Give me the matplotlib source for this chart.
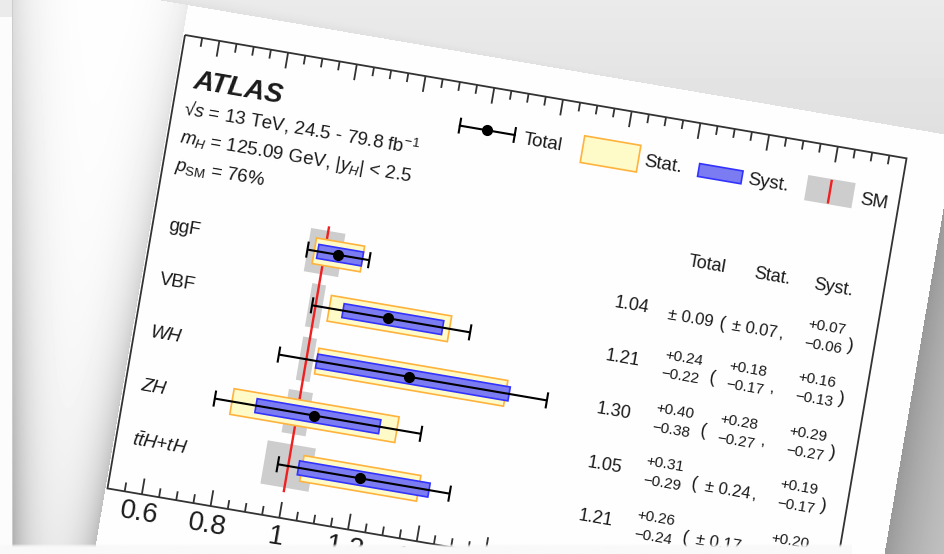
import numpy as np
import matplotlib.pyplot as plt
from matplotlib.transforms import Affine2D
from matplotlib.patches import Rectangle

plt.rcParams['font.family'] = ['Liberation Sans', 'DejaVu Sans']
plt.rcParams['mathtext.fontset'] = 'custom'
plt.rcParams['mathtext.rm'] = 'Liberation Sans'
plt.rcParams['mathtext.it'] = 'Liberation Sans:italic'
plt.rcParams['mathtext.bf'] = 'Liberation Sans:bold'
plt.rcParams['mathtext.fallback'] = 'stixsans'

# production modes, top to bottom
modes = ['ggF', 'VBF', 'WH', 'ZH', r'$t\bar{t}H$+$tH$']
mode_italic = [False, False, True, True, True]

mu = [1.04, 1.21, 1.30, 1.05, 1.21]
tot_up = [0.09, 0.24, 0.40, 0.31, 0.26]
tot_dn = [0.09, 0.22, 0.38, 0.29, 0.24]
stat_up = [0.07, 0.18, 0.28, 0.24, 0.17]
stat_dn = [0.07, 0.17, 0.27, 0.24, 0.17]
syst_up = [0.07, 0.16, 0.29, 0.19, 0.20]
syst_dn = [0.06, 0.13, 0.27, 0.17, 0.18]
sm_unc = [0.05, 0.02, 0.02, 0.035, 0.07]

x_major = [0.6, 0.8, 1.0, 1.2, 1.4, 1.6, 1.8, 2.0, 2.2, 2.4]

# geometry of the tilted page (pixels)
ANG = 9.7
ORIGIN = (185, 35)
FW, FH = 732, 460
XMIN, XMAX = 0.5, 2.6
PX = FW / (XMAX - XMIN)
ROW0, ROWPX = 190.9, 54.15
Y_TOP = -ROW0 / ROWPX
Y_BOT = (FH - ROW0) / ROWPX

W, H = 944, 554
fig = plt.figure(figsize=(W / 100, H / 100), dpi=100)
ax = fig.add_axes([0, 0, 1, 1])
ax.set_xlim(0, W)
ax.set_ylim(H, 0)
ax.axis('off')

page = Affine2D().rotate_deg(ANG).translate(*ORIGIN) + ax.transData
frac = Affine2D().scale(FW, FH) + page
data = Affine2D().translate(-XMIN, 0).scale(PX, ROWPX).translate(0, ROW0) + page
ROT = -ANG

# background: photo of a tilted page with shadows
yy, xx = np.mgrid[0:H, 0:W] + 0.5
ca, sa = np.cos(np.radians(ANG)), np.sin(np.radians(ANG))
lx = (xx - ORIGIN[0]) * ca + (yy - ORIGIN[1]) * sa
ly = -(xx - ORIGIN[0]) * sa + (yy - ORIGIN[1]) * ca
edge_d = np.clip(-2 - lx, 0, None)
bg = (1 - (0.14 + 0.18 * yy / H) * np.exp(-(xx - 12) / 22)
      - (0.08 + 0.18 * yy / H) * np.exp(-edge_d / 22))
bg = np.where(xx < 12, 0.985, bg)
bg = np.where((xx < 12) & (yy < 17), 0.92, bg)
bg = np.where((xx >= 12) & (xx < 13.5), 0.8, bg)
above = ly < -30
bg = np.where(above, np.minimum(bg, 0.94 - 0.06 * np.exp((ly + 30) / 12)), bg)
right = lx > 777
bg = np.where(right, 0.6 + 0.22 * (1 - np.exp(-(lx - 777) / 50)), bg)
inside = (lx >= -2) & (ly >= -30) & (lx <= 777)
bg = np.where(inside, 0.995, bg)
ax.imshow(bg, cmap='gray', vmin=0, vmax=1, extent=(0, W, H, 0),
          interpolation='bilinear', zorder=0, aspect='auto')

ink = '#1a1a1a'
rows = np.arange(len(modes))
mu_a = np.array(mu)

# SM band and line
sm = np.array(sm_unc)
ax.barh(rows, 2 * sm, left=1 - sm, height=0.81, color='#cdcdcd',
        transform=data, zorder=2)
ax.vlines(1.0, -0.49, len(modes) - 1 + 0.49, color='#f02020', lw=1.7,
          transform=data, zorder=3)

# stat / syst boxes
s_lo = mu_a - np.array(stat_dn)
s_hi = mu_a + np.array(stat_up)
ax.barh(rows, s_hi - s_lo, left=s_lo, height=0.48, color='#fffbc8',
        edgecolor='#ffb23c', linewidth=1.2, transform=data, zorder=4)
y_lo = mu_a - np.array(syst_dn)
y_hi = mu_a + np.array(syst_up)
ax.barh(rows, y_hi - y_lo, left=y_lo, height=0.26, color='#7b7bf2',
        edgecolor='#3333ff', linewidth=1.2, transform=data, zorder=5)

# total error bars
t_lo = mu_a - np.array(tot_dn)
t_hi = mu_a + np.array(tot_up)
ax.hlines(rows, t_lo, t_hi, color='black', lw=1.5, transform=data, zorder=6)
ax.vlines(np.r_[t_lo, t_hi], np.r_[rows, rows] - 0.15, np.r_[rows, rows] + 0.15,
          color='black', lw=1.5, transform=data, zorder=6)
ax.plot(mu_a, rows, 'o', color='black', ms=7, transform=data, zorder=7)

# frame and ticks
ax.add_patch(Rectangle((0, 0), 1, 1, fill=False, ec='#333333', lw=1.3,
                       transform=frac, zorder=8))
majors = np.array(x_major)
minors = np.round(np.arange(0.55, 2.6, 0.05), 2)
minors = minors[~np.isin(minors, np.round(majors, 2))]
tl_maj, tl_min = 16 / ROWPX, 9 / ROWPX
for yb, sgn in [(Y_TOP, 1), (Y_BOT, -1)]:
    ax.vlines(majors, yb, yb + sgn * tl_maj, color='#333333', lw=1.3,
              transform=data, zorder=8)
    ax.vlines(minors, yb, yb + sgn * tl_min, color='#333333', lw=1.3,
              transform=data, zorder=8)
for v in x_major:
    ax.text(v, Y_BOT + 0.36, '%g' % v, transform=data, rotation=ROT,
            rotation_mode='anchor', ha='center', va='center', fontsize=20,
            color=ink, zorder=8)

# mode labels
for i, (lab, it) in enumerate(zip(modes, mode_italic)):
    ax.text(0.546, i, lab, transform=data, rotation=ROT, rotation_mode='anchor',
            ha='left', va='center', fontsize=13.5, color=ink,
            style='italic' if it else 'normal', zorder=8)


# ATLAS label block
def ftext(x, y, s, **kw):
    kw.setdefault('color', ink)
    ax.text(x, y, s, transform=frac, rotation=ROT, rotation_mode='anchor',
            zorder=8, **kw)


ftext(0.022, 0.111, 'ATLAS', fontsize=20, weight='bold', style='italic',
      va='baseline')
ftext(0.016, 0.172, '√$s$ = 13 TeV, 24.5 - 79.8 fb$^{-1}$', fontsize=13.5,
      va='baseline')
ftext(0.016, 0.231, r'$m_{H}$ = 125.09 GeV, $|y_{H}|$ < 2.5', fontsize=13.5,
      va='baseline')
ftext(0.016, 0.293, r'$p_{\mathrm{SM}}$ = 76%', fontsize=13.5, va='baseline')

# legend
ly_tot = 0.0935
ax.plot([0.391, 0.467], [ly_tot, ly_tot], color='black', lw=1.5,
        transform=frac, zorder=8)
ax.vlines([0.391, 0.467], ly_tot - 0.0174, ly_tot + 0.0174, color='black',
          lw=1.5, transform=frac, zorder=8)
ax.plot([0.429], [ly_tot], 'o', color='black', ms=7, transform=frac, zorder=9)
ftext(0.4795, 0.100, 'Total', fontsize=13.5, va='center')
ax.add_patch(Rectangle((0.5615, 0.0696), 0.0778, 0.0587, fc='#fffbc8',
                       ec='#ffb23c', lw=1.2, transform=frac, zorder=8))
ftext(0.6475, 0.1035, 'Stat.', fontsize=13.5, va='center')
ax.add_patch(Rectangle((0.7227, 0.087), 0.0601, 0.0282, fc='#7b7bf2',
                       ec='#3333ff', lw=1.2, transform=frac, zorder=8))
ftext(0.791, 0.1043, 'Syst.', fontsize=13.5, va='center')
ax.add_patch(Rectangle((0.8716, 0.0717), 0.0656, 0.0555, fc='#cdcdcd',
                       ec='none', transform=frac, zorder=8))
ax.plot([0.9044, 0.9044], [0.076, 0.123], color='#f02020', lw=1.7,
        transform=frac, zorder=9)
ftext(0.9467, 0.1065, 'SM', fontsize=13.5, va='center')

# table
ftext(0.7555, 0.302, 'Total', fontsize=13, ha='center', va='center')
ftext(0.8456, 0.303, 'Stat.', fontsize=13, ha='center', va='center')
ftext(0.9313, 0.3054, 'Syst.', fontsize=13, ha='center', va='center')


def dtext(x, y, s, size):
    ax.text(x, y, s, transform=data, rotation=ROT, rotation_mode='anchor',
            ha='center', va='center', fontsize=size, color=ink, zorder=8)


def err(x, y, up, dn):
    if abs(up - dn) < 1e-9:
        dtext(x, y + 0.07, '± %.2f' % up, 12)
    else:
        dtext(x, y - 0.2, '+%.2f' % up, 11)
        dtext(x, y + 0.155, '−%.2f' % dn, 11)


for i in range(len(modes)):
    dtext(1.894, i, '%.2f' % mu[i], 13)
    err(2.066, i, tot_up[i], tot_dn[i])
    dtext(2.158, i + 0.07, '(', 13)
    err(2.253, i, stat_up[i], stat_dn[i])
    dtext(2.330, i + 0.07, ',', 12)
    err(2.455, i, syst_up[i], syst_dn[i])
    dtext(2.532, i + 0.07, ')', 13)

# sheet of paper lying over the bottom edge
ov = np.array([[0.0], [0.7], [1.0], [1.0], [1.0], [1.0]]) * np.ones((1, 10))
ax.imshow(np.full((6, 10), 0.975), cmap='gray', vmin=0, vmax=1,
          extent=(0, 852, 554, 543), alpha=ov,
          interpolation='bilinear', zorder=20, aspect='auto')

fig.savefig('out.png', dpi=100)
